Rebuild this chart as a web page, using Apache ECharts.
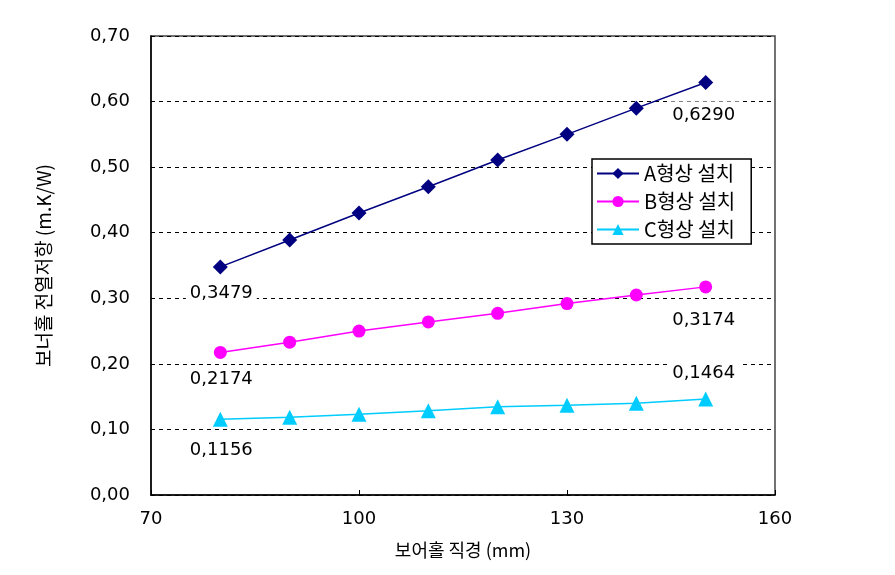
<!DOCTYPE html>
<html><head><meta charset="utf-8">
<script src="https://cdn.jsdelivr.net/npm/echarts@6/dist/echarts.min.js"></script>
<style>html,body{margin:0;padding:0;background:#fff}#c{width:895px;height:575px}</style>
</head><body><div id="c"></div>
<script>
var xValues = [80, 90, 100, 110, 120, 130, 140, 150];
var aValues = [0.3479, 0.389, 0.430, 0.470, 0.511, 0.550, 0.590, 0.6290];
var bValues = [0.2174, 0.233, 0.250, 0.264, 0.277, 0.292, 0.305, 0.3174];
var cValues = [0.1156, 0.1185, 0.123, 0.1286, 0.1347, 0.137, 0.140, 0.1464];
var seriesNames = ['A형상 설치', 'B형상 설치', 'C형상 설치'];
var xTitle = '보어홀 직경 (mm)';
var yTitle = '보너홀 전열저항 (m.K/W)';

var NUMFONT = '"DejaVu Sans", "Noto Sans CJK KR", sans-serif';
var KFONT = '"Noto Sans CJK KR", "DejaVu Sans", sans-serif';
function comma(v, d) { return v.toFixed(d).replace('.', ','); }

// label offsets [first, last]
var offsets = [
  [[1, 26], [-2, 33]],
  [[1, 27], [-2, 33]],
  [[1, 31], [-2, -26]]
];
var colors = ['#000080', '#ff00ff', '#00ccff'];
var symbols = ['diamond', 'circle', 'triangle'];
var sizes = [15, 13, 15];
var allVals = [aValues, bValues, cValues];

function build(vals, si) {
  return xValues.map(function (x, i) {
    var d = { value: [x, vals[i]] };
    var off = null;
    if (i === 0) off = offsets[si][0];
    if (i === vals.length - 1) off = offsets[si][1];
    if (off) {
      d.label = {
        show: true, position: 'inside', offset: off,
        align: 'center', verticalAlign: 'middle',
        formatter: function (p) { return comma(p.value[1], 4); },
        color: '#000', fontSize: 18, fontFamily: NUMFONT,
        backgroundColor: '#fff', padding: [5, 4]
      };
    }
    return d;
  });
}

var chart = echarts.init(document.getElementById('c'), null, { renderer: 'canvas' });
chart.setOption({
  animation: false,
  backgroundColor: '#fff',
  grid: { left: 151, top: 36, right: 120, bottom: 80, show: true, borderColor: '#444', borderWidth: 1.5, backgroundColor: 'transparent' },
  legend: {
    orient: 'vertical', left: 592, top: 159,
    padding: [3, 16, 3, 4], itemGap: 5, itemWidth: 42, itemHeight: 14,
    borderColor: '#000', borderWidth: 1.5, backgroundColor: '#fff',
    textStyle: { fontSize: 20, color: '#000', fontFamily: KFONT, lineHeight: 23 },
    data: seriesNames
  },
  xAxis: {
    type: 'value', min: 70, max: 160, interval: 30,
    name: xTitle, nameLocation: 'middle', nameGap: 46,
    nameTextStyle: { fontSize: 18, color: '#000', fontFamily: KFONT },
    axisLine: { show: true, lineStyle: { color: '#000', width: 1.5 } },
    axisTick: { show: true, inside: true, length: 5, lineStyle: { color: '#000' } },
    axisLabel: { fontSize: 18, color: '#000', margin: 15, fontFamily: NUMFONT },
    splitLine: { show: false }
  },
  yAxis: {
    type: 'value', min: 0, max: 0.7, interval: 0.1,
    name: yTitle, nameLocation: 'middle', nameGap: 98, nameRotate: 90,
    nameTextStyle: { fontSize: 19, color: '#000', fontFamily: KFONT },
    axisLine: { show: true, lineStyle: { color: '#000', width: 1.5 } },
    axisTick: { show: false },
    axisLabel: { fontSize: 18, color: '#000', margin: 21, fontFamily: NUMFONT, formatter: function (v) { return comma(v, 2); } },
    splitLine: { show: true, lineStyle: { color: '#000', type: [4, 4], width: 1 } }
  },
  series: allVals.map(function (vals, si) {
    return {
      name: seriesNames[si], type: 'line', data: build(vals, si),
      symbol: symbols[si], symbolSize: sizes[si],
      lineStyle: { color: colors[si], width: 1.5 },
      itemStyle: { color: colors[si] },
      label: { show: false }
    };
  })
});
</script></body></html>
